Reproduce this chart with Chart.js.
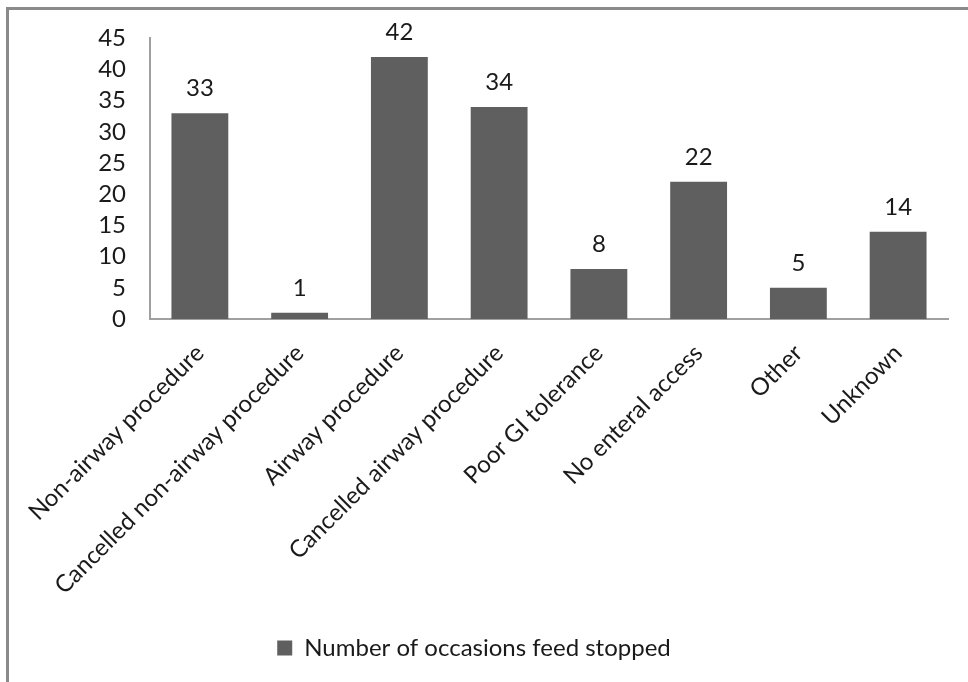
<!DOCTYPE html>
<html>
<head>
<meta charset="utf-8">
<script src="https://cdn.jsdelivr.net/npm/chart.js@4/dist/chart.umd.min.js"></script>
<style>
  html, body { margin: 0; padding: 0; background: #fff; }
  #wrap { position: relative; width: 968px; height: 682px; overflow: hidden; }
  #frame { position: absolute; left: 6px; top: 7px; width: 1000px; height: 700px;
           border-top: 3px solid #8a8a8a; border-left: 3px solid #8a8a8a; box-sizing: border-box; }
  canvas { position: absolute; left: 0; top: 0; }
</style>
</head>
<body>
<div id="wrap">
  <canvas id="chart" width="968" height="682"></canvas>
  <div id="frame"></div>
</div>
<script>
const categories = ['Non-airway procedure', 'Cancelled non-airway procedure', 'Airway procedure',
  'Cancelled airway procedure', 'Poor GI tolerance', 'No enteral access', 'Other', 'Unknown'];
const occasions = [33, 1, 42, 34, 8, 22, 5, 14];
const seriesName = 'Number of occasions feed stopped';
const yTicks = [0, 5, 10, 15, 20, 25, 30, 35, 40, 45];

const FONT = 'Lato, "Open Sans", sans-serif';
const FSIZE = 24;
const barColor = '#5f5f5f';

// value labels above each bar
const valueLabels = {
  id: 'valueLabels',
  afterDatasetsDraw(chart) {
    const ctx = chart.ctx;
    const meta = chart.getDatasetMeta(0);
    ctx.save();
    ctx.font = FSIZE + 'px ' + FONT;
    ctx.fillStyle = '#1a1a1a';
    ctx.textAlign = 'center';
    ctx.textBaseline = 'alphabetic';
    meta.data.forEach((bar, i) => {
      ctx.fillText(String(occasions[i]), bar.x, bar.y - 17);
    });
    ctx.restore();
  }
};

new Chart(document.getElementById('chart').getContext('2d'), {
  type: 'bar',
  data: {
    labels: categories,
    datasets: [{
      label: seriesName,
      data: occasions,
      backgroundColor: barColor,
      borderWidth: 0,
      categoryPercentage: 1,
      barPercentage: 0.57
    }]
  },
  options: {
    responsive: false,
    animation: false,
    layout: { padding: { top: 37, right: 20, bottom: 12, left: 0 } },
    plugins: {
      legend: {
        position: 'bottom',
        labels: {
          font: { family: FONT, size: FSIZE },
          color: '#1a1a1a',
          boxWidth: 15,
          boxHeight: 15,
          padding: 10
        }
      },
      tooltip: { enabled: false }
    },
    scales: {
      x: {
        grid: { display: false, drawTicks: false },
        border: { display: true, color: '#a0a0a0', width: 2 },
        ticks: {
          font: { family: FONT, size: FSIZE },
          color: '#1a1a1a',
          minRotation: 45,
          maxRotation: 45,
          autoSkip: false,
          padding: 20
        },
        afterFit(scale) { scale.height = 307; }
      },
      y: {
        min: 0,
        max: 45,
        afterBuildTicks(scale) { scale.ticks = yTicks.map(v => ({ value: v })); },
        grid: { display: false, drawTicks: false },
        border: { display: true, color: '#a0a0a0', width: 2 },
        ticks: {
          font: { family: FONT, size: FSIZE },
          color: '#1a1a1a',
          padding: 24,
          autoSkip: false
        },
        afterFit(scale) { scale.width = 150; }
      }
    }
  },
  plugins: [valueLabels]
});
</script>
</body>
</html>
